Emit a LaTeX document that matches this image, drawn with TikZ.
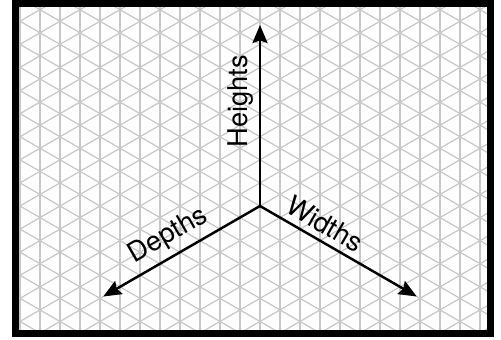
\documentclass[tikz,border=0pt]{standalone}
\usepackage{fontspec}
\setmainfont{TeX Gyre Heros}
\usetikzlibrary{arrows.meta}

\begin{document}
\begin{tikzpicture}[
  gridline/.style={draw=black!22,line width=0.7pt},
  axis/.style={line width=1.4pt,-{Stealth[length=3.6mm,width=3mm,inset=0.5mm]}},
  axislabel/.style={sloped,above=0.8mm,inner sep=1.5pt,font=\fontsize{15.5}{18}\selectfont}]
  \useasboundingbox (0,0) rectangle (10.02,6.78);

  % isometric grid, clipped to the frame
  \begin{scope}
    \clip (0.38,0.18) rectangle (9.74,6.64);
    \foreach \i in {-13,...,12}
      \draw[gridline] (5.2+0.4*\i,0) -- (5.2+0.4*\i,6.78);
    \foreach \k in {-20,...,22} {
      \draw[gridline] (-4.8,2.66+0.4619*\k-5.7735) -- (15.2,2.66+0.4619*\k+5.7735);
      \draw[gridline] (-4.8,2.66+0.4619*\k+5.7735) -- (15.2,2.66+0.4619*\k-5.7735);
    }
  \end{scope}

  % frame
  \draw[line width=4pt] (0.31,0.11) rectangle (9.81,6.71);

  % axes
  \coordinate (origin) at (5.2,2.66);
  \coordinate (htip) at (5.2,6.28);
  \coordinate (wtip) at (8.335,0.85);
  \coordinate (dtip) at (2.065,0.85);
  \draw[axis] (origin) -- (htip);
  \draw[axis] (origin) -- (wtip);
  \draw[axis] (origin) -- (dtip);

  % labels
  \path (origin) -- node[axislabel,pos=0.58] {Heights} (htip);
  \path (origin) -- node[axislabel,pos=0.36] {Widths} (wtip);
  \path (dtip) -- node[axislabel,pos=0.48] {Depths} (origin);
\end{tikzpicture}
\end{document}
